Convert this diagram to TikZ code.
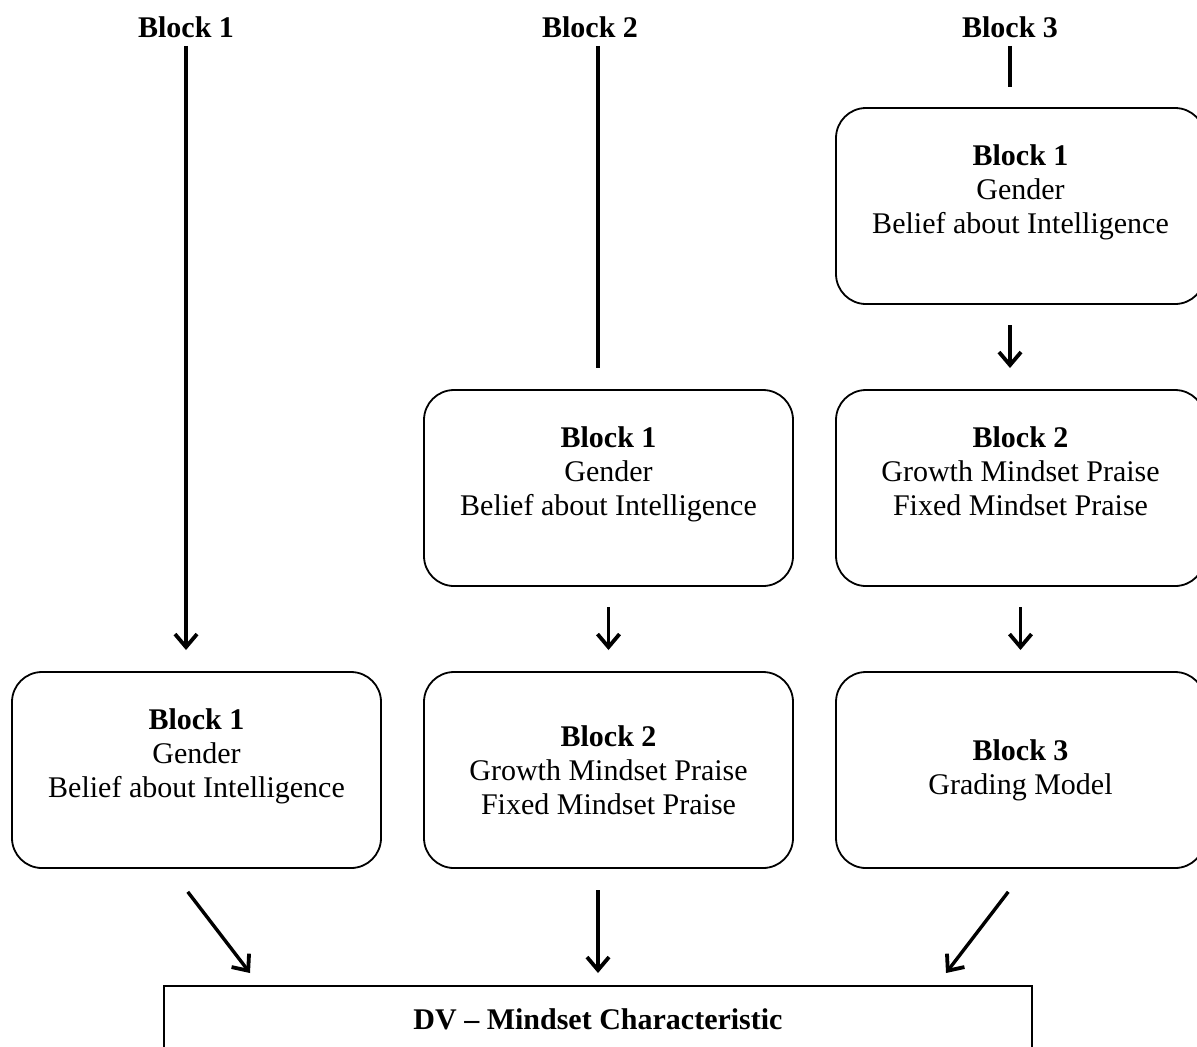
\documentclass[tikz,border=0pt]{standalone}
\usepackage{fontspec}
\setmainfont{Liberation Serif}
\usetikzlibrary{positioning,arrows.meta}

\begin{document}
\begin{tikzpicture}[x=0.5pt, y=-0.5pt, -{Straight Barb[length=6.5pt,width=11pt,line width=1.9pt]}, line width=1.7pt, node distance=43pt and 21.5pt, font=\fontsize{15}{17}\selectfont, block/.style={rectangle, rounded corners=15pt, minimum width=184.5pt, minimum height=98pt, draw, line width=0.9pt, outer sep=0pt, align=center}, head/.style={font=\fontsize{15}{17}\selectfont\bfseries}, dvbox/.style={rectangle, draw, line width=0.9pt, outer sep=0pt, anchor=north, minimum width=434pt, inner sep=0pt, text height=21.5pt, text depth=40pt}, gap/.style={shorten <=10.5pt, shorten >=11pt}, plain/.style={-}]
		\useasboundingbox (0,0) rectangle (1197,1046);
		\node[head] (h1) at (186,27) {Block 1};
		\node[head] (h2) at (590,27) {Block 2};
		\node[head] (h3) at (1010,27) {Block 3};
		\node[block] (b11) at (196.5,770) {\textbf{Block 1}\\Gender\\Belief about Intelligence\\\mbox{}};
		\node[block] (b22) [right = of b11] {\textbf{Block 2}\\Growth Mindset Praise\\Fixed Mindset Praise};
		\node[block] (b21) [above = of b22] {\textbf{Block 1}\\Gender\\Belief about Intelligence\\\mbox{}};
		\node[block] (b33) [right = of b22] {\textbf{Block 3}\\Grading Model};
		\node[block] (b32) [above = of b33] {\textbf{Block 2}\\Growth Mindset Praise\\Fixed Mindset Praise\\\mbox{}};
		\node[block] (b31) [above = of b32] {\textbf{Block 1}\\Gender\\Belief about Intelligence\\\mbox{}};
		\node[dvbox] (dv) at (598,986) {\textbf{DV -- Mindset Characteristic}};
		\draw[shorten >=11pt] (h1.south) -- ([xshift=-5.25pt]b11.north);
		\draw[plain, shorten >=11pt] ([xshift=4pt]h2.south) -- ([xshift=-5.25pt]b21.north);
		\draw[plain, shorten >=10.5pt] (h3.south) -- ([xshift=-5.25pt]b31.north);
		\draw[gap] ([xshift=-5.25pt]b31.south) -- ([xshift=-5.25pt]b32.north);
		\draw[gap] (b32) -- (b33);
		\draw[gap] (b21) -- (b22);
		\draw[shorten <=15pt] ([xshift=-13.5pt]b11.south) -- ([shift={(-174pt,6.5pt)}]dv.north);
		\draw[shorten <=11pt, shorten >=6.5pt] (dv.north |- b22.south) -- (dv.north);
		\draw[shorten <=15pt] ([xshift=3pt]b33.south) -- ([shift={(174pt,6.5pt)}]dv.north);
	\end{tikzpicture}
\end{document}
